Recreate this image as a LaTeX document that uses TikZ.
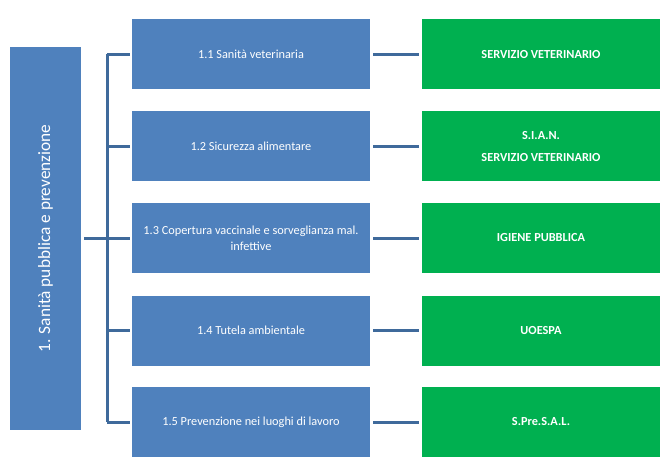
\documentclass[tikz,border=0pt]{standalone}
\usepackage{fontspec}
\setmainfont{Carlito}
\usepackage{tikz}
\usetikzlibrary{positioning}
\definecolor{areablue}{HTML}{4F81BD}
\definecolor{linkblue}{HTML}{3F6A9B}
\definecolor{servgreen}{HTML}{00B050}

\begin{document}
\begin{tikzpicture}[x=1pt,y=-1pt,
 rootbox/.style={fill=areablue,minimum width=71pt,minimum height=383pt,inner sep=0pt},
 areabox/.style={fill=areablue,minimum width=238pt,minimum height=70pt,text=white,font=\fontsize{12.3}{16}\selectfont,align=center,inner sep=0pt},
 servbox/.style={fill=servgreen,minimum width=238pt,minimum height=70pt,text=white,font=\fontsize{12.3}{16}\selectfont\bfseries,align=center,inner sep=0pt},
 link/.style={draw=linkblue,line width=3pt}]
\useasboundingbox (0,0) rectangle (671,470);
% left column
\node [rootbox] (root) at (45.5,238.5) {};
\node [rotate=90,text=white,font=\fontsize{17.3}{20}\selectfont] (roottext) at (root.center) {1. Sanità pubblica e prevenzione};
% middle column
\node [areabox] (a1) at (251,54.5) {1.1 Sanità veterinaria};
\node [areabox] (a2) at (251,146.5) {1.2 Sicurezza alimentare};
\node [areabox] (a3) at (251,238) {1.3 Copertura vaccinale e sorveglianza mal.\\infettive};
\node [areabox] (a4) at (251,330.5) {1.4 Tutela ambientale};
\node [areabox] (a5) at (251,422) {1.5 Prevenzione nei luoghi di lavoro};
% right column
\node [servbox] (s1) at (541,54.5) {SERVIZIO VETERINARIO};
\node [servbox] (s2) at (541,146.5) {S.I.A.N.\\[6pt]SERVIZIO VETERINARIO};
\node [servbox] (s3) at (541,238) {IGIENE PUBBLICA};
\node [servbox] (s4) at (541,330.5) {UOESPA};
\node [servbox] (s5) at (541,422) {S.Pre.S.A.L.};
% connectors
\coordinate (fork) at (107,238);
\draw [link,shorten <=3pt] (root.east |- fork) -- (fork);
\draw [link] (fork |- a1.west) -- (fork |- a5.west);
\draw [link,shorten >=2pt] (fork |- a1.west) -- (a1.west);
\draw [link,shorten >=2pt] (fork |- a2.west) -- (a2.west);
\draw [link,shorten >=2pt] (fork |- a3.west) -- (a3.west);
\draw [link,shorten >=2pt] (fork |- a4.west) -- (a4.west);
\draw [link,shorten >=2pt] (fork |- a5.west) -- (a5.west);
\draw [link,shorten <=3pt,shorten >=3pt] (a1.east) -- (s1.west);
\draw [link,shorten <=3pt,shorten >=3pt] (a2.east) -- (s2.west);
\draw [link,shorten <=3pt,shorten >=3pt] (a3.east) -- (s3.west);
\draw [link,shorten <=3pt,shorten >=3pt] (a4.east) -- (s4.west);
\draw [link,shorten <=3pt,shorten >=3pt] (a5.east) -- (s5.west);
\end{tikzpicture}
\end{document}
